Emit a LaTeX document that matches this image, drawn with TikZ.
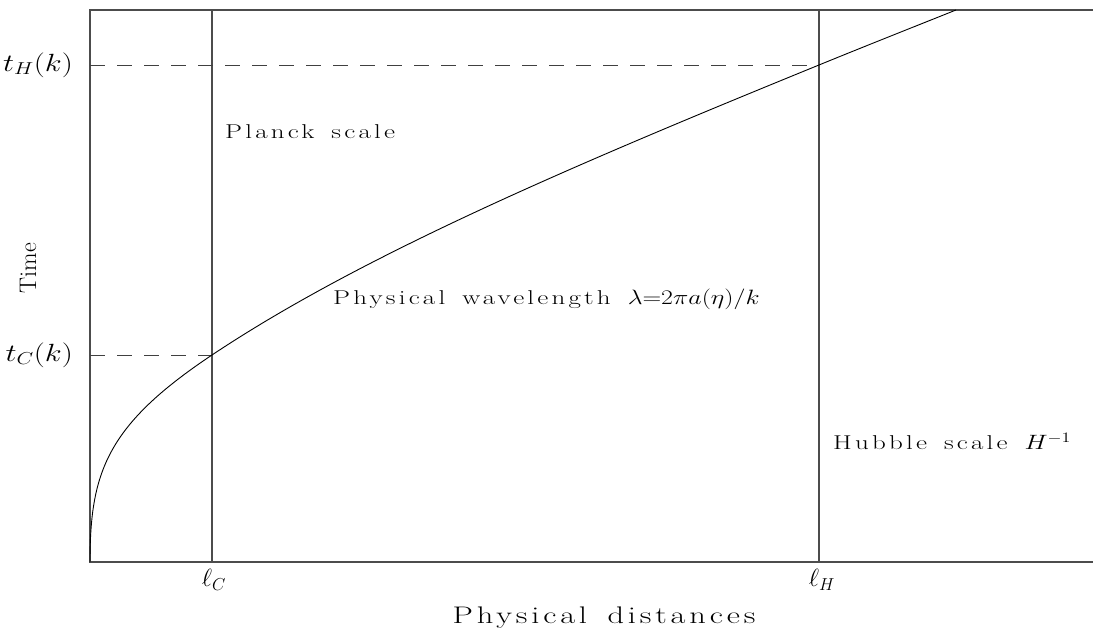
\documentclass[tikz,border=0pt]{standalone}
\usepackage{fontspec}
\usepackage{graphicx}
\newfontfamily\plotfont{Latin Modern Roman}[FakeStretch=1.35, LetterSpace=16, WordSpace=1.5]
\newcommand\widemath[1]{\scalebox{1.25}[1]{$#1$}}
\usetikzlibrary{positioning}

\tikzset{
  axis/.style={line width=1.1pt, black!70},
  guide/.style={line width=0.9pt, black!75, dash pattern=on 15pt off 12pt},
  curve/.style={line width=0.9pt, black},
  lbl/.style={font=\plotfont\fontsize{20}{24}\selectfont, inner sep=0pt},
  axlbl/.style={font=\plotfont\fontsize{24}{28}\selectfont, inner sep=0pt},
  mlbl/.style={font=\fontsize{24}{28}\selectfont, inner sep=0pt}
}

\begin{document}
\begin{tikzpicture}[x=1pt, y=1pt]
  \useasboundingbox (0,0) rectangle (1093,630);

  % frame
  \coordinate (origin) at (90,68);
  \coordinate (topleft) at (90,620);
  \coordinate (topright) at (1093,620);
  \coordinate (botright) at (1093,68);
  \draw[axis] (topright) -- (topleft) -- (origin) -- (botright);

  % scales
  \coordinate (lc) at (212,68);
  \coordinate (lctop) at (212,620);
  \coordinate (lh) at (819,68);
  \coordinate (lhtop) at (819,620);
  \draw[axis] (lc) -- (lctop);
  \draw[axis] (lh) -- (lhtop);

  % crossing times
  \coordinate (tcleft) at (90,275);
  \coordinate (tccross) at (212,275);
  \coordinate (thleft) at (90,565);
  \coordinate (thcross) at (819,565);
  \draw[guide] (tcleft) -- (tccross);
  \draw[guide] (thleft) -- (thcross);

  % wavelength
  \coordinate (curvetop) at (956,620);
  \draw[curve] (origin) .. controls (90,158) and (107,205) .. (tccross)
    .. controls (362,375) and (574,465) .. (thcross)
    .. controls (863,583) and (911,602) .. (curvetop);

  % labels
  \node[mlbl, anchor=east] (tH) at (73,565) {\widemath{t_H(k)}};
  \node[mlbl, anchor=east] (tC) at (73,275) {\widemath{t_C(k)}};
  \node[mlbl] (ellC) at (214,50) {$\ell_C$};
  \node[mlbl] (ellH) at (822,50) {$\ell_H$};
  \node[lbl, anchor=base west] (planck) at (225,491) {Planck scale};
  \node[lbl, anchor=base west] (wave) at (333,325) {Physical wavelength \widemath{\lambda{=}2\pi a(\eta)/k}};
  \node[lbl, anchor=base west] (hubble) at (833,180) {Hubble scale \widemath{H^{-1}}};
  \node[axlbl, anchor=base] (xlab) at (604,7) {Physical distances};
  \node[mlbl, rotate=90] (ylab) at (28,362) {Time};
\end{tikzpicture}
\end{document}
